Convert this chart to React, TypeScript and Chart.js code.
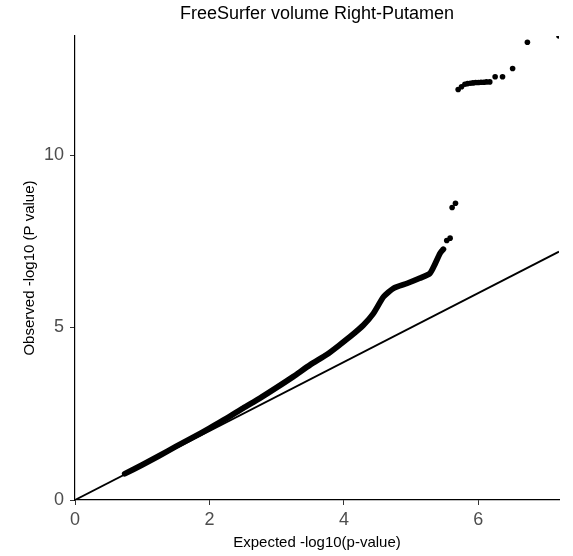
import React, { useEffect, useRef } from "react";
import { Chart, registerables } from "chart.js";

Chart.register(...registerables);

const chartTitle = "FreeSurfer volume Right-Putamen";
const xAxisTitle = "Expected -log10(p-value)";
const yAxisTitle = "Observed -log10 (P value)";

const xTickValues = [0, 2, 4, 6];
const yTickValues = [0, 5, 10];
const xMax = 7.2;
const yMax = 13.45;

// dense body of the QQ curve (overlapping points)
const expectedDense = [0.74, 1.0, 1.25, 1.5, 1.75, 2.0, 2.25, 2.5, 2.75, 3.0, 3.25, 3.5, 3.75, 3.94, 4.09, 4.29, 4.44, 4.59, 4.74, 4.94, 5.13, 5.28, 5.36, 5.43, 5.48];
const observedDense = [0.76, 1.02, 1.28, 1.55, 1.81, 2.08, 2.36, 2.66, 2.95, 3.26, 3.58, 3.92, 4.22, 4.5, 4.73, 5.07, 5.41, 5.89, 6.14, 6.28, 6.43, 6.57, 6.86, 7.15, 7.27];

// sparse tail points
const expectedTail = [5.53, 5.58, 5.61, 5.66, 5.70, 5.75, 5.80, 5.84, 5.88, 5.92, 5.96, 6.00, 6.04, 6.08, 6.12, 6.17, 6.25, 6.36, 6.51, 6.73, 7.2];
const observedTail = [7.52, 7.59, 8.48, 8.60, 11.90, 11.98, 12.05, 12.07, 12.08, 12.09, 12.10, 12.10, 12.11, 12.11, 12.12, 12.12, 12.27, 12.27, 12.51, 13.27, 13.45];

// reference y = x line
const diagonal = [0, 7.2];

const FONT = '"Liberation Sans", Arial, Helvetica, sans-serif';

export default function App() {
  const ref = useRef<HTMLCanvasElement>(null);

  useEffect(() => {
    if (!ref.current) return;
    const textPlugin = {
      id: "qqTexts",
      afterDraw(chart: any) {
        const { ctx, chartArea } = chart;
        const cx = (chartArea.left + chartArea.right) / 2;
        const cy = (chartArea.top + chartArea.bottom) / 2;
        ctx.save();
        ctx.fillStyle = "#000";
        ctx.textAlign = "center";
        ctx.textBaseline = "middle";
        ctx.font = `18px ${FONT}`;
        ctx.fillText(chartTitle, cx, 14);
        ctx.font = `15px ${FONT}`;
        ctx.fillText(xAxisTitle, cx, 543);
        ctx.translate(30, cy);
        ctx.rotate(-Math.PI / 2);
        ctx.fillText(yAxisTitle, 0, 0);
        ctx.restore();
      },
    };

    const chart = new Chart(ref.current, {
      type: "scatter",
      data: {
        datasets: [
          {
            label: "Expected",
            data: diagonal.map((v) => ({ x: v, y: v })),
            showLine: true,
            borderColor: "#000",
            borderWidth: 1.8,
            pointRadius: 0,
            clip: 0,
          },
          {
            label: "Dense",
            data: expectedDense.map((x, i) => ({ x, y: observedDense[i] })),
            showLine: true,
            borderColor: "#000",
            backgroundColor: "#000",
            borderWidth: 5.8,
            borderCapStyle: "round",
            borderJoinStyle: "round",
            tension: 0.2,
            pointRadius: 0,
            clip: 0,
          },
          {
            label: "Tail",
            data: expectedTail.map((x, i) => ({ x, y: observedTail[i] })),
            showLine: false,
            backgroundColor: "#000",
            borderColor: "#000",
            borderWidth: 0,
            pointRadius: 2.8,
            clip: 0,
          },
        ] as any,
      },
      options: {
        responsive: false,
        animation: false,
        events: [],
        layout: { padding: { top: 36, right: 14, left: 0, bottom: 0 } },
        plugins: {
          legend: { display: false },
          title: { display: false },
          tooltip: { enabled: false },
        },
        scales: {
          x: {
            type: "linear",
            min: 0,
            max: xMax,
            afterBuildTicks: (s: any) => {
              s.ticks = xTickValues.map((v) => ({ value: v }));
            },
            afterFit: (s: any) => {
              s.height = 56;
            },
            grid: {
              display: true,
              drawOnChartArea: false,
              drawTicks: true,
              tickLength: 5,
              color: "#333",
              lineWidth: 1,
            },
            border: { display: true, color: "#000", width: 1.2 },
            ticks: {
              color: "#4D4D4D",
              font: { size: 18, family: FONT },
              padding: 4,
              autoSkip: false,
              maxRotation: 0,
            },
          },
          y: {
            type: "linear",
            min: 0,
            max: yMax,
            afterBuildTicks: (s: any) => {
              s.ticks = yTickValues.map((v) => ({ value: v }));
            },
            afterFit: (s: any) => {
              s.width = 75;
            },
            grid: {
              display: true,
              drawOnChartArea: false,
              drawTicks: true,
              tickLength: 5,
              color: "#333",
              lineWidth: 1,
            },
            border: { display: true, color: "#000", width: 1.2 },
            ticks: {
              color: "#4D4D4D",
              font: { size: 18, family: FONT },
              padding: 6,
              autoSkip: false,
            },
          },
        },
      } as any,
      plugins: [textPlugin],
    });
    return () => chart.destroy();
  }, []);

  return (
    <div style={{ position: "absolute", left: 0, top: 0, width: 573, height: 556, background: "#fff" }}>
      <canvas ref={ref} width={573} height={556} style={{ display: "block", width: 573, height: 556 }} />
    </div>
  );
}
